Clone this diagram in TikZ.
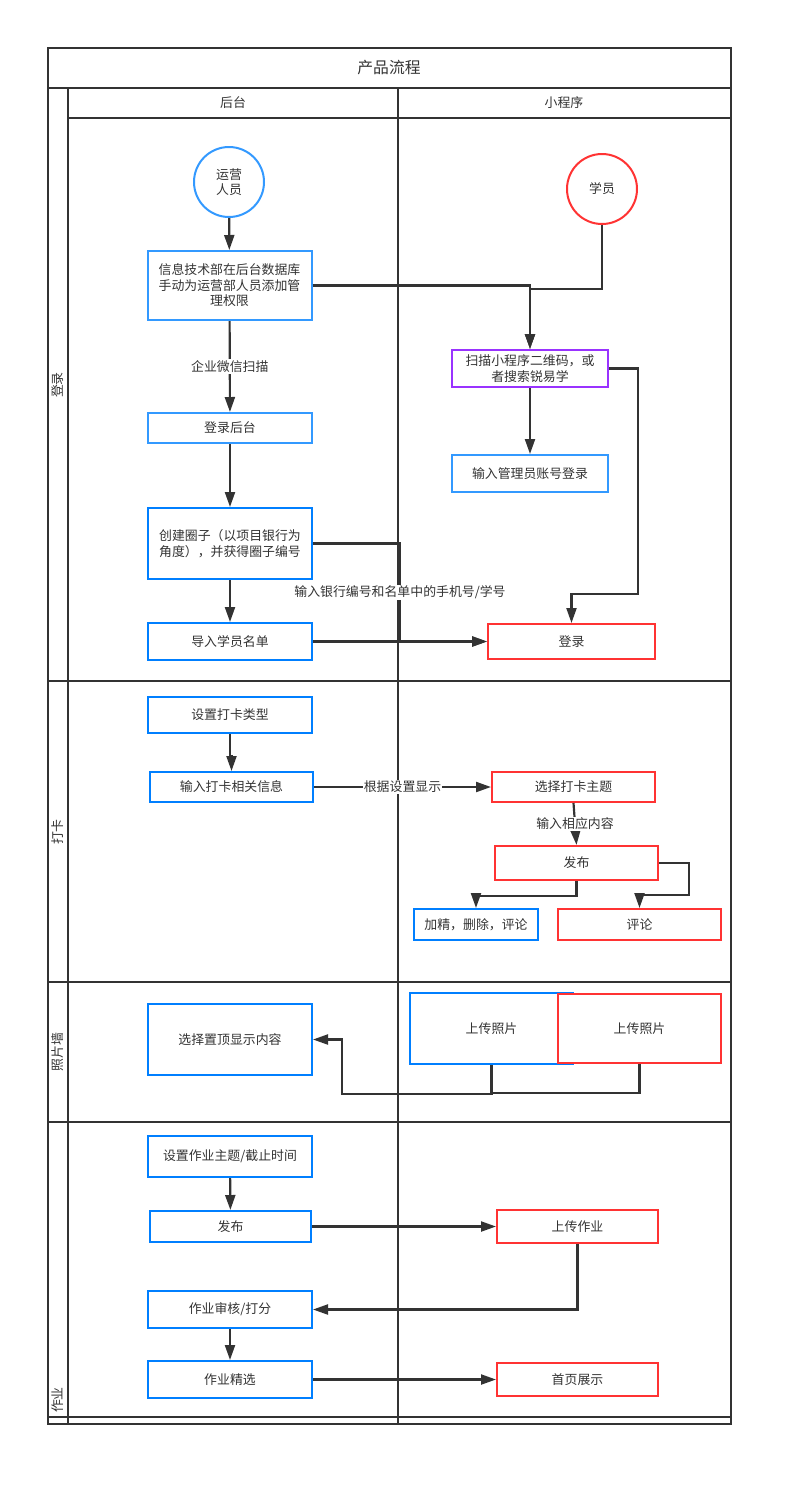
\documentclass[tikz,border=0pt]{standalone}
\usepackage{fontspec}
\setmainfont{Noto Sans CJK SC}
\usetikzlibrary{arrows.meta}
\definecolor{lanegray}{RGB}{51,51,51}
\definecolor{lightblue}{RGB}{51,153,255}
\definecolor{deepblue}{RGB}{0,127,255}
\definecolor{flowred}{RGB}{255,51,51}
\definecolor{flowpurple}{RGB}{153,51,255}
\begin{document}
\begin{tikzpicture}[x=0.3mm,y=-0.3mm,
    every node/.style={inner sep=0pt,font=\fontsize{11pt}{13.2pt}\selectfont,text=lanegray},
    lane/.style={draw=lanegray,line width=0.6mm},
    lbox/.style={draw=lightblue,line width=0.6mm,fill=white,align=center,minimum width=49.2mm},
    bbox/.style={draw=deepblue,line width=0.6mm,fill=white,align=center,minimum width=49.2mm},
    rbox/.style={draw=flowred,line width=0.6mm,fill=white,align=center,minimum width=48.9mm},
    link/.style={draw=lanegray,line width=0.65mm},
    arr/.style={link,-{Triangle[length=4.5mm,width=3mm]}},
    lbl/.style={fill=white,inner sep=1pt}]
\useasboundingbox (0,0) rectangle (793,1487);
\draw [lane] (48,48) rectangle (731,1424);
\draw [lane] (48,88) -- (731,88);
\draw [lane] (68,88) -- (68,1424);
\draw [lane] (68,118) -- (731,118);
\draw [lane] (398,88) -- (398,1424);
\foreach \y in {681,982,1122,1417}
    \draw [lane] (48,\y) -- (731,\y);
\node (title) at (389,68) {\fontsize{13.5pt}{16pt}\selectfont 产品流程};
\node (backend) at (233,103) {后台};
\node (miniapp) at (564,103) {小程序};
\node [rotate=90] (laneLogin) at (58,385) {登录};
\node [rotate=90] (laneCard) at (58,832) {打卡};
\node [rotate=90] (laneWall) at (58,1052) {照片墙};
\node [rotate=90] (laneWork) at (58,1400) {作业};
\node [circle,draw=lightblue,line width=0.6mm,minimum size=21mm,align=center] (ops) at (229,182) {运营\\人员};
\node [circle,draw=flowred,line width=0.6mm,minimum size=21mm] (stu) at (602,189) {学员};
\node [lbox,minimum height=20.7mm] (grant) at (229.5,285.5) {信息技术部在后台数据库\\手动为运营部人员添加管\\理权限};
\node [lbox,minimum height=9mm] (adminLogin) at (230,428) {登录后台};
\node [bbox,minimum height=21.3mm] (circ) at (230,543.5) {创建圈子（以项目银行为\\角度），并获得圈子编号};
\node [bbox,minimum height=11.1mm] (roster) at (230,641.5) {导入学员名单};
\node [draw=flowpurple,line width=0.6mm,fill=white,align=center,minimum width=46.8mm,minimum height=11.1mm] (scan) at (530,368.5) {扫描小程序二维码，或\\者搜索锐易学};
\node [lbox,minimum width=46.8mm,minimum height=11.1mm] (acct) at (530,473.5) {输入管理员账号登录};
\node [rbox,minimum width=50.1mm,minimum height=10.5mm] (signin) at (571.5,641.5) {登录};
\draw [arr] (ops) -- (grant);
\draw [arr] (grant) -- node [lbl] {企业微信扫描} (adminLogin);
\draw [arr] (adminLogin) -- (circ);
\draw [arr] (circ) -- (roster);
\draw [arr] (grant.east) -| (scan.north);
\draw [arr] (stu.south) -- ++(0,64) -| (scan.north);
\draw [arr] (scan) -- (acct);
\draw [arr] (scan.east) -| (638,594) -| (signin.north);
\draw [arr] (circ.east) -- (400,543.5) -- node [lbl] {输入银行编号和名单中的手机号/学号} (400,641.5) -- (signin.west);
\draw [arr] (roster) -- (signin);
\node [bbox,minimum height=10.8mm] (cardType) at (230,715) {设置打卡类型};
\node [bbox,minimum width=48.9mm,minimum height=9mm] (cardInfo) at (231.5,787) {输入打卡相关信息};
\node [rbox,minimum height=9mm] (cardTheme) at (573.5,787) {选择打卡主题};
\node [rbox,minimum height=10.2mm] (cardPub) at (576.5,863) {发布};
\node [bbox,minimum width=37.2mm,minimum height=9.3mm] (cardPick) at (476,924.5) {加精，删除，评论};
\node [rbox,minimum height=9.3mm] (cardReply) at (639.5,924.5) {评论};
\draw [arr] (cardType.south) -- ++(0,22) -| (cardInfo.north);
\draw [arr] (cardInfo) -- node [lbl] {根据设置显示} (cardTheme);
\draw [arr] (cardTheme.south) -- node [lbl] {输入相应内容} (cardPub.north);
\draw [arr] (cardPub.south) -- ++(0,15) -| (cardPick.north);
\draw [arr] (cardPub.east) -- ++(30,0) -- ++(0,32) -| (cardReply.north);
\node [bbox,minimum height=21.3mm] (pinTop) at (230,1039.5) {选择置顶显示内容};
\node [bbox,minimum width=48.9mm,minimum height=21.3mm] (photoA) at (491.5,1028.5) {上传照片};
\node [rbox,minimum height=20.7mm] (photoB) at (639.5,1028.5) {上传照片};
\draw [arr] (photoA.south) |- (342,1094) |- (pinTop.east);
\draw [link] (photoB.south) |- (photoA.south |- 0,1093);
\node [bbox,minimum height=12.3mm] (hwSet) at (230,1156.5) {设置作业主题/截止时间};
\node [bbox,minimum width=48.3mm,minimum height=9.3mm] (hwPub) at (230.5,1226.5) {发布};
\node [rbox,minimum width=48.3mm,minimum height=9.9mm] (hwUp) at (577.5,1226.5) {上传作业};
\node [bbox,minimum height=11.1mm] (hwCheck) at (230,1309.5) {作业审核/打分};
\node [bbox,minimum height=11.1mm] (hwBest) at (230,1379.5) {作业精选};
\node [rbox,minimum width=48.3mm,minimum height=9.9mm] (hwShow) at (577.5,1379.5) {首页展示};
\draw [arr] (hwSet) -- (hwPub);
\draw [arr] (hwPub) -- (hwUp);
\draw [arr] (hwUp.south) |- (hwCheck.east);
\draw [arr] (hwCheck) -- (hwBest);
\draw [arr] (hwBest) -- (hwShow);
\end{tikzpicture}
\end{document}
